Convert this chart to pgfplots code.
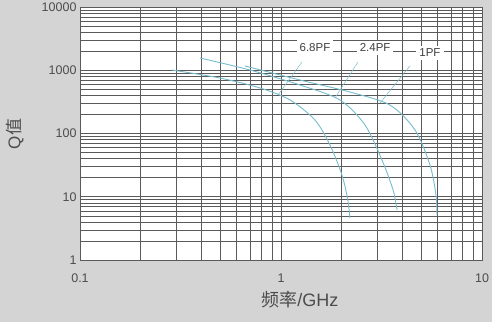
\documentclass[border=0pt]{standalone}
\usepackage{pgfplots}
\pgfplotsset{compat=1.18}
\usepackage{fontspec}
\setmainfont{Liberation Sans}
\newfontfamily\cjk{Noto Sans CJK SC}
\definecolor{bg}{HTML}{D4D4D4}
\definecolor{curve}{HTML}{78BCCD}
\definecolor{gridc}{HTML}{5A5A5A}
\begin{document}
\begin{tikzpicture}[x=1pt,y=1pt]
\fill[bg] (-80,-62) rectangle (412,260);
\useasboundingbox (-80,-62) rectangle (412,260);
\begin{axis}[
  scale only axis, width=402pt, height=253pt,
  xmode=log, ymode=log,
  xmin=0.1, xmax=10, ymin=1, ymax=10000,
  axis background/.style={fill=white},
  axis line style={gridc, line width=0.6pt},
  grid=both,
  major grid style={gridc, line width=0.7pt},
  minor grid style={gridc, line width=0.55pt},
  xtick={0.1,1,10}, xticklabels={0.1,1,10},
  ytick={1,10,100,1000,10000}, yticklabels={1,10,100,1000,10000},
  minor xtick={0.2,0.3,0.4,0.5,0.6,0.7,0.8,0.9,2,3,4,5,6,7,8,9},
  minor ytick={2,3,4,5,6,7,8,9,20,30,40,50,60,70,80,90,200,300,400,500,600,700,800,900,2000,3000,4000,5000,6000,7000,8000,9000},
  major tick length=0pt, minor tick length=0pt,
  tick label style={font=\fontsize{12.5}{14}\selectfont, text=black!70},
  xticklabel style={yshift=-10pt},
  /pgf/number format/assume math mode=true,
  xlabel={{\cjk 频率}/GHz},
  ylabel={Q{\cjk 值}},
  xlabel style={font=\fontsize{18}{20}\selectfont, text=black!70, at={(axis description cs:0.547,-0.158)}, anchor=center},
  ylabel style={font=\fontsize{17}{19}\selectfont, text=black!70, at={(axis description cs:-0.162,0.498)}, anchor=center},
  clip=false,
]
% 6.8PF
\addplot[curve, line width=0.9pt, smooth] coordinates {
 (0.287,1009) (0.497,754) (0.787,524) (1.109,339) (1.476,163) (1.753,65.8) (2.01,22.1) (2.15,8.89) (2.20,4.61)};
% 2.4PF
\addplot[curve, line width=0.9pt, smooth] coordinates {
 (0.395,1563) (0.701,1009) (1.243,585) (1.966,339) (2.618,136) (3.18,38.1) (3.61,12.8) (3.78,6.17)};
% 1PF
\addplot[curve, line width=0.9pt, smooth] coordinates {
 (0.662,1168) (1.243,701) (2.20,453) (3.48,282) (4.64,114) (5.51,31.8) (5.90,10.7) (5.97,5.14)};
% leader lines
\addplot[curve, line width=0.5pt] coordinates {(1.272,1350) (0.966,406)};
\addplot[curve, line width=0.5pt] coordinates {(2.415,1350) (1.857,364)};
\addplot[curve, line width=0.5pt] coordinates {(4.38,1168) (3.11,303)};
% labels
\node[fill=white, inner sep=3pt, font=\fontsize{11.5}{13}\selectfont, text=black!75] at (axis cs:1.476,2300) {6.8PF};
\node[fill=white, inner sep=3pt, font=\fontsize{11.5}{13}\selectfont, text=black!75] at (axis cs:2.94,2250) {2.4PF};
\node[fill=white, inner sep=3pt, font=\fontsize{11.5}{13}\selectfont, text=black!75] at (axis cs:5.51,1900) {1PF};
\end{axis}
\end{tikzpicture}
\end{document}
